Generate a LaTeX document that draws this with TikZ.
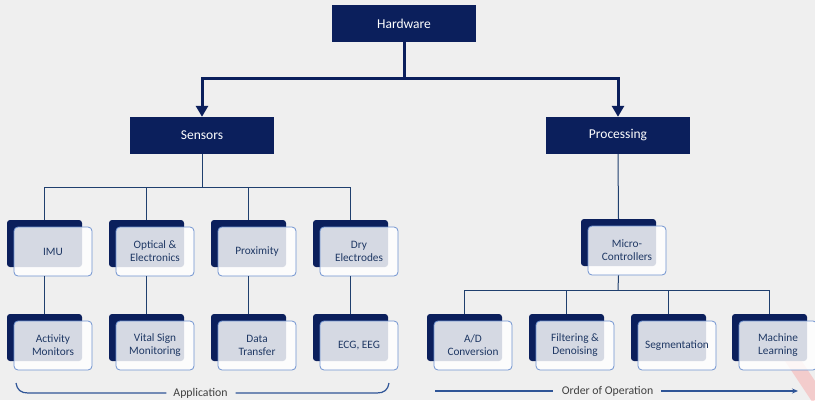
\documentclass[tikz,border=0pt]{standalone}
\usepackage{fontspec}
\setmainfont{Carlito}
\usetikzlibrary{arrows.meta}
\definecolor{navy}{HTML}{0B1F5C}
\definecolor{linecol}{HTML}{1F3F6E}
\definecolor{txtcol}{HTML}{1F3864}
\definecolor{framecol}{HTML}{7093D0}
\definecolor{bluecol}{HTML}{2F5597}
\definecolor{bgcol}{HTML}{EFEFEF}
\tikzset{
  headbox/.style={fill=navy, text=white, minimum width=144pt, minimum height=37pt, inner sep=0pt, font=\fontsize{13.5}{16}\selectfont},
  darkbox/.style={fill=navy, rounded corners=3pt, minimum width=75pt, minimum height=47pt, inner sep=0pt},
  frontbox/.style={fill=white, fill opacity=0.83, text opacity=1, draw=framecol, line width=0.8pt, rounded corners=4pt, minimum width=78pt, minimum height=49pt, inner sep=0pt, align=center, text=txtcol, font=\fontsize{11.3}{13}\selectfont},
  bigarrow/.style={draw=navy, line width=3pt, -{Triangle[width=12pt,length=11pt]}},
  thinline/.style={draw=linecol, line width=1pt},
  bluebar/.style={draw=bluecol, line width=1.2pt},
  bottomtxt/.style={text=black!75, font=\fontsize{11.8}{14}\selectfont, inner sep=0pt}
}
\newcommand\cbox[4]{%
  \node[darkbox] (#1-b) at (#2+37.5,#3+23.5) {};
  \node[frontbox] (#1) at (#2+46,#3+31.5) {#4};
}
\begin{document}
\begin{tikzpicture}[x=1pt,y=-1pt]
\useasboundingbox (0,0) rectangle (815,400);
\fill[bgcol] (0,0) rectangle (815,400);
\begin{scope}
\clip (0,0) rectangle (815,400);
\draw[red!60, line width=14pt, opacity=0.25] (786,350) -- (818,398);
\end{scope}
% header boxes
\node[headbox] (hw) at (404,23.5) {Hardware};
\node[headbox] (sens) at (202,135.5) {Sensors};
\node[headbox] (proc) at (618,135.5) {Processing};
\coordinate (hwbus) at (404,78);
\draw[bigarrow] (hw.south) -- (hwbus) -| (sens.north);
\draw[bigarrow] (hwbus) -| (proc.north);
% sensors children
\cbox{imu}{7}{220}{IMU}
\cbox{opt}{109}{220}{Optical \&\\Electronics}
\cbox{prox}{211}{220}{Proximity}
\cbox{dry}{313}{220}{\fontsize{11.3}{17}\selectfont Dry\\Electrodes}
\cbox{act}{7}{314}{Activity\\Monitors}
\cbox{vital}{109}{314}{Vital Sign\\Monitoring}
\cbox{data}{211}{314}{\fontsize{11.3}{17}\selectfont Data\\Transfer}
\cbox{ecg}{313}{314}{ECG, EEG}
% processing children
\cbox{micro}{581}{219}{Micro-\\Controllers}
\cbox{ad}{427}{314}{A/D\\Conversion}
\cbox{filt}{529}{314}{Filtering \&\\Denoising}
\cbox{seg}{631}{314}{Segmentation}
\cbox{ml}{732}{314}{Machine\\Learning}
% sensors tree
\coordinate (sbus) at (202,187);
\draw[thinline] (sens.south) -- (sbus);
\draw[thinline] (imu-b.north) -- (imu-b.north |- sbus) -- (dry-b.north |- sbus) -- (dry-b.north);
\draw[thinline] (opt-b.north) -- (opt-b.north |- sbus);
\draw[thinline] (prox-b.north) -- (prox-b.north |- sbus);
\draw[thinline] (imu.south -| imu-b.south) -- (act-b.north);
\draw[thinline] (opt.south -| opt-b.south) -- (vital-b.north);
\draw[thinline] (prox.south -| prox-b.south) -- (data-b.north);
\draw[thinline] (dry.south -| dry-b.south) -- (ecg-b.north);
% processing tree
\coordinate (pbus) at (618,290);
\draw[thinline] (proc.south) -- (micro-b.north);
\draw[thinline] (micro.south -| micro-b.south) -- (pbus);
\draw[thinline] (ad-b.north) -- (ad-b.north |- pbus) -- (ml-b.north |- pbus) -- (ml-b.north);
\draw[thinline] (filt-b.north) -- (filt-b.north |- pbus);
\draw[thinline] (seg-b.north) -- (seg-b.north |- pbus);
% bottom labels
\node[bottomtxt] (appl) at (200.5,393) {Application};
\draw[bluebar] (16,383) .. controls (17,390) and (21,393) .. (28,393) -- ([xshift=-7pt]appl.west);
\draw[bluebar] ([xshift=8pt]appl.east) -- (377,393) .. controls (384,393) and (388,390) .. (389,383);
\node[bottomtxt] (order) at (607.5,391) {Order of Operation};
\draw[bluebar] (435,391) -- ([xshift=-9pt]order.west);
\draw[bluebar, -{Stealth[length=6pt,width=5pt]}] ([xshift=8pt]order.east) -- (798,391);
\end{tikzpicture}
\end{document}
